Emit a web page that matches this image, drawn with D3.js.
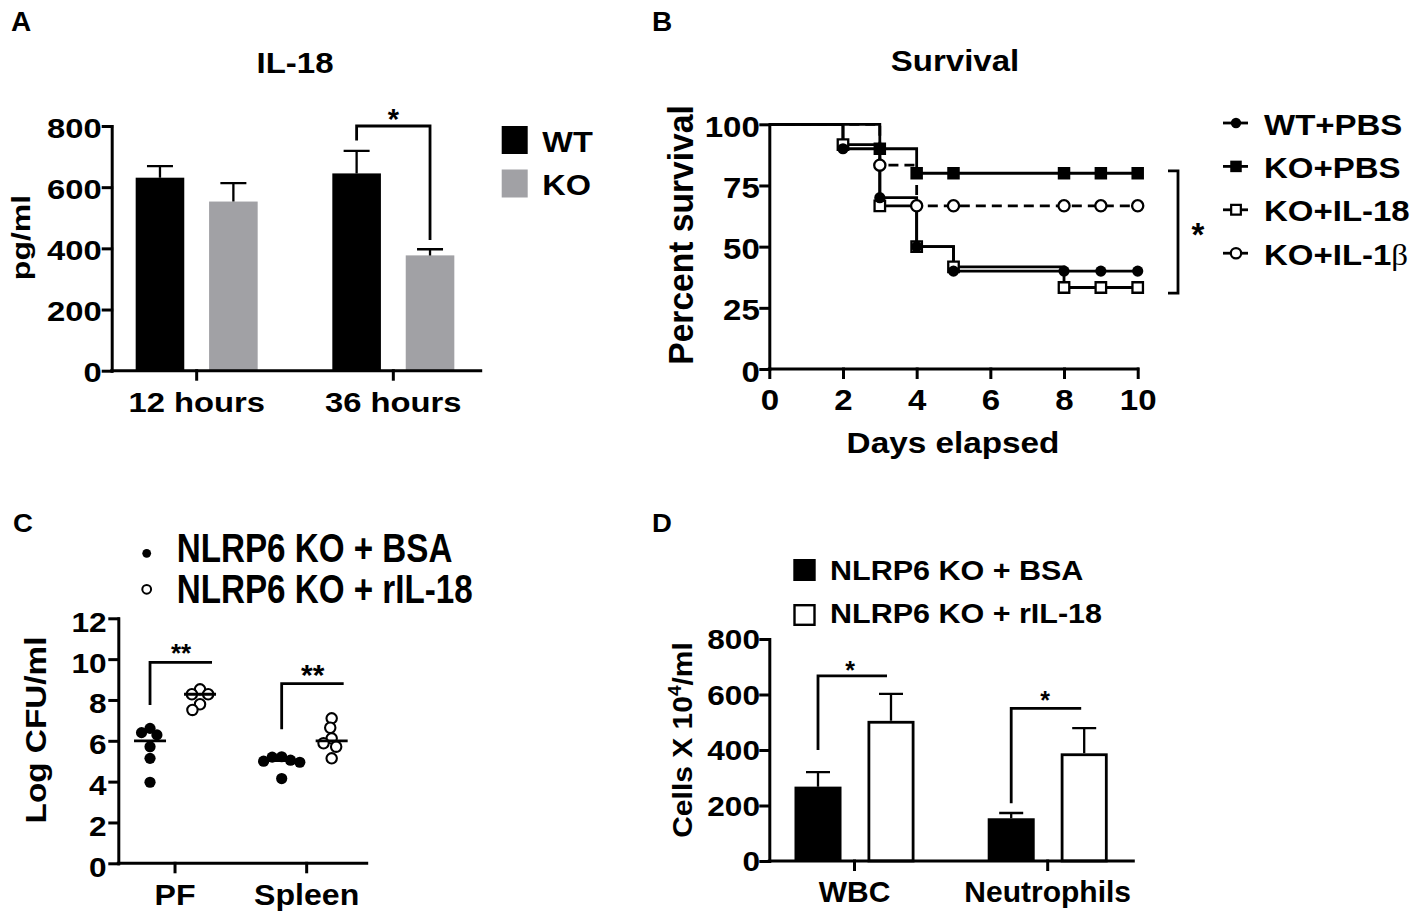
<!DOCTYPE html>
<html lang="en">
<head>
<meta charset="UTF-8">
<title>NLRP6 / IL-18 figure</title>
<script src="https://d3js.org/d3.v7.min.js"></script>
<style>
    body { margin: 0; background: #fff; }
    svg text {
        font-family: "Liberation Sans", Arial, Helvetica, sans-serif;
        font-weight: bold;
        fill: #000;
    }
    .axis path, .axis line { stroke: #000; stroke-width: 3px; stroke-linecap: square; }
    .ink { stroke: #000; stroke-width: 2.8px; fill: none; }
    .err { stroke-width: 2.3px; }
</style>
</head>
<body>
<svg id="fig" width="1423" height="921"></svg>
<script>
// A: IL-18 (pg/ml), mean and upper error
const ilGroups = ["12 hours", "36 hours"];
const ilSeries = ["WT", "KO"];
const ilWT = [631, 645];
const ilKO = [553, 377];
const ilWTerr = [38, 74];
const ilKOerr = [60, 20];
const ilTicks = [0, 200, 400, 600, 800];

// B: survival (%), step values at each day
const survDays = [0, 2, 3, 4, 5, 8, 9, 10];
const survNames = ["WT+PBS", "KO+PBS", "KO+IL-18", "KO+IL-1β"];
const survWtPbs = [100, 90, 70, 50, 40, 40, 40, 40];
const survKoPbs = [100, 100, 90, 80, 80, 80, 80, 80];
const survKoIl18 = [100, 91.7, 66.7, 50, 41.7, 33.3, 33.3, 33.3];
const survKoIl1b = [100, 100, 83.3, 66.7, 66.7, 66.7, 66.7, 66.7];
const dayTicks = [0, 2, 4, 6, 8, 10];
const pctTicks = [0, 25, 50, 75, 100];

// C: Log CFU/ml per mouse
const cfuSites = ["PF", "Spleen"];
const cfuGroups = ["NLRP6 KO + BSA", "NLRP6 KO + rIL-18"];
const cfuPfBsa = [6.61, 6.40, 6.29, 5.71, 5.14, 3.97];
const cfuPfRil = [8.52, 8.28, 8.28, 7.79, 7.51];
const cfuSpBsa = [5.22, 5.20, 5.05, 5.00, 4.95, 4.15];
const cfuSpRil = [7.10, 6.64, 6.12, 5.88, 5.71, 5.14];
const cfuTicks = [0, 2, 4, 6, 8, 10, 12];

// D: cells x 10^4/ml
const cellTypes = ["WBC", "Neutrophils"];
const cellBsa = [268, 154];
const cellBsaErr = [52, 19];
const cellRil = [505, 388];
const cellRilErr = [97, 91];
const cellTicks = [0, 200, 400, 600, 800];

const svg = d3.select("#fig");
svg.append("rect").attr("width", 1423).attr("height", 921).attr("fill", "#fff");

// text with optional horizontal stretch (the figure panels are not 1:1)
function txt(g, x, y, s, size, o = {}) {
    let tr = `translate(${x},${y})`;
    if (o.sx && o.sx !== 1) tr += ` scale(${o.sx},1)`;
    if (o.rot) tr += ` rotate(${o.rot})`;
    return g.append("text")
        .attr("transform", tr)
        .attr("text-anchor", o.anchor || "start")
        .style("font-size", size + "px")
        .text(s);
}

function leftAxis(g, y, x0, ticks, size, sx, pad, base) {
    const ax = g.append("g").attr("class", "axis")
        .attr("transform", `translate(${x0},0)`)
        .call(d3.axisLeft(y).tickValues(ticks).tickSize(8.5).tickSizeOuter(0));
    ax.selectAll(".tick text")
        .attr("x", null).attr("dy", null)
        .attr("transform", `translate(${-pad},${base}) scale(${sx},1)`)
        .style("font-size", size + "px");
    return ax;
}

function bottomAxis(g, x, y0, xa, xb, size, sx, off, ticks) {
    const a = d3.axisBottom(x).tickSize(8.5).tickSizeOuter(0);
    if (ticks) a.tickValues(ticks);
    const ax = g.append("g").attr("class", "axis")
        .attr("transform", `translate(0,${y0})`)
        .call(a);
    ax.select(".domain").remove();
    ax.append("line").attr("x1", xa).attr("x2", xb).attr("y1", 0).attr("y2", 0);
    ax.selectAll(".tick text")
        .attr("y", null).attr("dy", null)
        .attr("transform", `translate(0,${off}) scale(${sx},1)`)
        .style("font-size", size + "px");
    return ax;
}

// asterisk glyph sits high, shift baseline so the glyph centre lands on cy
function star(g, cx, cy, s, size) {
    txt(g, cx, cy + 0.573 * size, s, size, { anchor: "middle" });
}

// panel letters
txt(svg, 11, 31, "A", 28);
txt(svg, 652, 31, "B", 28);
txt(svg, 13, 532, "C", 25, { sx: 1.1 });
txt(svg, 652, 532, "D", 25, { sx: 1.1 });

// ===================== A =====================
const gA = svg.append("g");
const yA = d3.scaleLinear().domain([0, 800]).range([370.7, 126]);
const xA = d3.scaleBand().domain(ilGroups).range([98.35, 491.65]);
const xAi = d3.scaleBand().domain(ilSeries).range([-61, 61]).paddingInner(0.338);
const ilColor = d3.scaleOrdinal(ilSeries, ["#000000", "#a1a1a5"]);

const ilRows = [];
ilGroups.forEach((grp, i) => {
    ilRows.push({ g: grp, s: "WT", v: ilWT[i], e: ilWTerr[i] });
    ilRows.push({ g: grp, s: "KO", v: ilKO[i], e: ilKOerr[i] });
});
const aCx = d => xA(d.g) + xA.bandwidth() / 2 + xAi(d.s) + xAi.bandwidth() / 2;

gA.selectAll("rect.bar").data(ilRows).join("rect")
    .attr("class", "bar")
    .attr("x", d => aCx(d) - xAi.bandwidth() / 2)
    .attr("y", d => yA(d.v))
    .attr("width", xAi.bandwidth())
    .attr("height", d => yA(0) - yA(d.v))
    .attr("fill", d => ilColor(d.s));

gA.selectAll("path.err").data(ilRows).join("path")
    .attr("class", "ink err")
    .attr("d", d => `M${aCx(d)},${yA(d.v)}V${yA(d.v + d.e)}M${aCx(d) - 13},${yA(d.v + d.e)}H${aCx(d) + 13}`);

leftAxis(gA, yA, 111.7, ilTicks, 28, 1.17, 10, 11);
bottomAxis(gA, xA, 370.7, 111.7, 480.7, 28, 1.17, 41);

txt(gA, 295, 73, "IL-18", 30, { anchor: "middle", sx: 1.1 });
txt(gA, 30, 237.5, "pg/ml", 32, { anchor: "middle", rot: -90, sx: 0.8 });

// significance bracket at 36 h
{
    const l = aCx(ilRows[2]), r = aCx(ilRows[3]);
    gA.append("path").attr("class", "ink")
        .attr("d", `M${l},${yA(753)}V${yA(800)}H${r}V${yA(427)}`);
    star(gA, (l + r) / 2, 112, "*", 29);
}

// legend
ilSeries.forEach((s, i) => {
    const yy = 126 + i * 43.5;
    gA.append("rect").attr("x", 501.7).attr("y", yy).attr("width", 26).attr("height", 28)
        .attr("fill", ilColor(s));
    txt(gA, 542.3, yy + 25.8, s, 29, { sx: 1.12 });
});

// ===================== B =====================
const gB = svg.append("g");
const xB = d3.scaleLinear().domain([0, 10]).range([769.3, 1137.7]);
const yB = d3.scaleLinear().domain([0, 100]).range([369, 124.3]);
const survVals = [survWtPbs, survKoPbs, survKoIl18, survKoIl1b];
const survStyle = [
    { sym: d3.symbolCircle, size: Math.PI * 5.6 * 5.6, fill: "#000", dash: null },
    { sym: d3.symbolSquare, size: 12.5 * 12.5, fill: "#000", dash: null },
    { sym: d3.symbolSquare, size: 10.5 * 10.5, fill: "#fff", dash: null },
    { sym: d3.symbolCircle, size: Math.PI * 5.6 * 5.6, fill: "#fff", dash: "10,6" }
];
const drawOrder = [3, 2, 0, 1];
const step = d3.line().curve(d3.curveStepAfter).x(d => xB(d[0])).y(d => yB(d[1]));

drawOrder.forEach(k => {
    const pts = survDays.map((d, i) => [d, survVals[k][i]]);
    gB.append("path").attr("class", "ink")
        .attr("stroke-dasharray", survStyle[k].dash)
        .attr("d", step(pts));
});
drawOrder.forEach(k => {
    const st = survStyle[k];
    const pts = survDays.map((d, i) => [d, survVals[k][i]]).filter(p => p[0] > 0 && p[1] < 100);
    gB.selectAll(null).data(pts).join("path")
        .attr("transform", p => `translate(${xB(p[0])},${yB(p[1])})`)
        .attr("d", d3.symbol(st.sym, st.size))
        .attr("fill", st.fill)
        .attr("stroke", st.fill === "#fff" ? "#000" : "none")
        .attr("stroke-width", 2.3);
});

leftAxis(gB, yB, 769.3, pctTicks, 30, 1.1, 9.5, 12);
bottomAxis(gB, xB, 369, 769.3, 1137.7, 30, 1.1, 41, dayTicks);

txt(gB, 955, 70.7, "Survival", 30, { anchor: "middle", sx: 1.1 });
txt(gB, 953, 453, "Days elapsed", 30, { anchor: "middle", sx: 1.11 });
txt(gB, 693, 235, "Percent survival", 33.6, { anchor: "middle", rot: -90, sx: 1.04 });

// bracket across the groups
gB.append("path").attr("class", "ink")
    .attr("d", `M1168,${yB(81)}H1178V${yB(31)}H1168`);
star(gB, 1198, 226.7, "*", 33);

// legend
survNames.forEach((name, k) => {
    const cy = 123 + k * 43.4;
    const st = survStyle[k];
    gB.append("line").attr("class", "ink").attr("x1", 1223).attr("x2", 1248).attr("y1", cy).attr("y2", cy);
    gB.append("path").attr("transform", `translate(1236,${cy})`)
        .attr("d", d3.symbol(st.sym, st.size * 0.85))
        .attr("fill", st.fill)
        .attr("stroke", st.fill === "#fff" ? "#000" : "none")
        .attr("stroke-width", 2.2);
    const t = txt(gB, 1264, cy + 11.5, "", 30, { sx: 1.1 });
    if (name.endsWith("β")) {
        t.append("tspan").text(name.slice(0, -1));
        t.append("tspan").style("font-family", "'Liberation Serif', 'DejaVu Serif', serif")
            .style("font-weight", "normal").text("β");
    } else {
        t.text(name);
    }
});

// ===================== C =====================
const gC = svg.append("g");
const yC = d3.scaleLinear().domain([0, 12]).range([863.3, 618.3]);
const xC = d3.scaleBand().domain(cfuSites).range([109.2, 372.5]);
const xCi = d3.scalePoint().domain(cfuGroups).range([-25, 25]);
const cCx = (site, grp) => xC(site) + xC.bandwidth() / 2 + xCi(grp);

const cfuSets = [
    { site: "PF", grp: cfuGroups[0], vals: cfuPfBsa },
    { site: "PF", grp: cfuGroups[1], vals: cfuPfRil },
    { site: "Spleen", grp: cfuGroups[0], vals: cfuSpBsa },
    { site: "Spleen", grp: cfuGroups[1], vals: cfuSpRil }
];

// simple beeswarm: put each dot as close to the column centre as it can go
function dodge(vals, y, d) {
    const placed = [];
    vals.slice().sort((a, b) => b - a).forEach(v => {
        const yy = y(v);
        const cands = [0];
        placed.forEach(p => {
            const dy = Math.abs(p.y - yy);
            if (dy < d) {
                const dx = Math.sqrt(d * d - dy * dy);
                cands.push(p.dx - dx, p.dx + dx);
            }
        });
        cands.sort((a, b) => Math.abs(a) - Math.abs(b));
        const dx = cands.find(c => placed.every(p => (p.dx - c) ** 2 + (p.y - yy) ** 2 >= d * d - 0.01));
        placed.push({ v, y: yy, dx });
    });
    return placed;
}

cfuSets.forEach(set => {
    const cx = cCx(set.site, set.grp);
    const filled = set.grp === cfuGroups[0];
    gC.selectAll(null).data(dodge(set.vals, yC, 9.5)).join("circle")
        .attr("cx", p => cx + p.dx)
        .attr("cy", p => p.y)
        .attr("r", filled ? 5.6 : 5.2)
        .attr("fill", filled ? "#000" : "#fff")
        .attr("stroke", filled ? "none" : "#000")
        .attr("stroke-width", 2.1);
    const med = d3.median(set.vals);
    gC.append("line").attr("class", "ink")
        .attr("x1", cx - 16).attr("x2", cx + 16)
        .attr("y1", yC(med)).attr("y2", yC(med));
});

leftAxis(gC, yC, 118.3, cfuTicks, 28, 1.13, 11.6, 13);
bottomAxis(gC, xC, 863.3, 118.3, 366.7, 30, 1.07, 41.7);
txt(gC, 46, 730, "Log CFU/ml", 33.3, { anchor: "middle", rot: -90, sx: 0.87 });

// brackets
{
    const l1 = cCx("PF", cfuGroups[0]), r1 = cCx("PF", cfuGroups[1]) + 12;
    gC.append("path").attr("class", "ink").attr("d", `M${l1},${yC(7.75)}V${yC(9.84)}H${r1}`);
    star(gC, (l1 + r1) / 2, 646.7, "**", 26);
    const l2 = cCx("Spleen", cfuGroups[0]), r2 = cCx("Spleen", cfuGroups[1]) + 12;
    gC.append("path").attr("class", "ink").attr("d", `M${l2},${yC(6.56)}V${yC(8.8)}H${r2}`);
    star(gC, (l2 + r2) / 2, 668, "**", 30);
}

// legend
cfuGroups.forEach((name, i) => {
    const cy = 553.3 + i * 36;
    gC.append("circle").attr("cx", 146.7).attr("cy", cy).attr("r", 4.4)
        .attr("fill", i === 0 ? "#000" : "#fff")
        .attr("stroke", i === 0 ? "none" : "#000").attr("stroke-width", 2);
    txt(gC, 176.7, 561.7 + i * 41.6, name, 40, { sx: 0.83 });
});

// ===================== D =====================
const gD = svg.append("g");
const yD = d3.scaleLinear().domain([0, 800]).range([861, 639]);
const xD = d3.scaleBand().domain(cellTypes).range([757.9, 1144.3]);
const dKeys = ["bsa", "ril"];
const xDi = d3.scaleBand().domain(dKeys).range([-60, 60]).paddingInner(0.356);

const cellRows = [];
cellTypes.forEach((c, i) => {
    cellRows.push({ c, k: "bsa", v: cellBsa[i], e: cellBsaErr[i] });
    cellRows.push({ c, k: "ril", v: cellRil[i], e: cellRilErr[i] });
});
const dCx = d => xD(d.c) + xD.bandwidth() / 2 + xDi(d.k) + xDi.bandwidth() / 2;

gD.selectAll("path.err").data(cellRows).join("path")
    .attr("class", "ink err")
    .attr("d", d => `M${dCx(d)},${yD(d.v)}V${yD(d.v + d.e)}M${dCx(d) - 12},${yD(d.v + d.e)}H${dCx(d) + 12}`);

gD.selectAll("rect.bar").data(cellRows).join("rect")
    .attr("class", "bar")
    .attr("x", d => dCx(d) - xDi.bandwidth() / 2 + (d.k === "ril" ? 1.4 : 0))
    .attr("y", d => yD(d.v) + (d.k === "ril" ? 1.4 : 0))
    .attr("width", d => xDi.bandwidth() - (d.k === "ril" ? 2.8 : 0))
    .attr("height", d => yD(0) - yD(d.v) - (d.k === "ril" ? 1.4 : 0))
    .attr("fill", d => d.k === "bsa" ? "#000" : "#fff")
    .attr("stroke", d => d.k === "bsa" ? "none" : "#000")
    .attr("stroke-width", 2.8);

leftAxis(gD, yD, 769.3, cellTicks, 27, 1.17, 9.3, 9.6);
bottomAxis(gD, xD, 861, 769.3, 1133.3, 30, 1, 40.7);

{
    const t = txt(gD, 691.7, 740, "", 30, { anchor: "middle", rot: -90, sx: 0.93 });
    t.append("tspan").text("Cells X 10");
    t.append("tspan").attr("dy", -11).style("font-size", "19px").text("4");
    t.append("tspan").attr("dy", 11).text("/ml");
}

// brackets
{
    const l1 = dCx(cellRows[0]), r1 = dCx(cellRows[1]) - 4;
    gD.append("path").attr("class", "ink").attr("d", `M${l1},${yD(400)}V${yD(667)}H${r1}`);
    star(gD, 850, 665, "*", 25);
    const l2 = dCx(cellRows[2]), r2 = dCx(cellRows[3]) - 3;
    gD.append("path").attr("class", "ink").attr("d", `M${l2},${yD(208)}V${yD(550)}H${r2}`);
    star(gD, 1045, 694.7, "*", 25);
}

// legend
cfuGroups.forEach((name, i) => {
    const top = 559 + i * 45;
    gD.append("rect")
        .attr("x", 793.3 + (i ? 1.2 : 0)).attr("y", top + (i ? 1.2 : 0))
        .attr("width", 22.4 - (i ? 2.4 : 0)).attr("height", 22 - (i ? 2.4 : 0))
        .attr("fill", i ? "#fff" : "#000")
        .attr("stroke", i ? "#000" : "none").attr("stroke-width", 2.4);
    txt(gD, 830, 580 + i * 43.3, name, 28, { sx: 1.09 });
});
</script>
</body>
</html>
